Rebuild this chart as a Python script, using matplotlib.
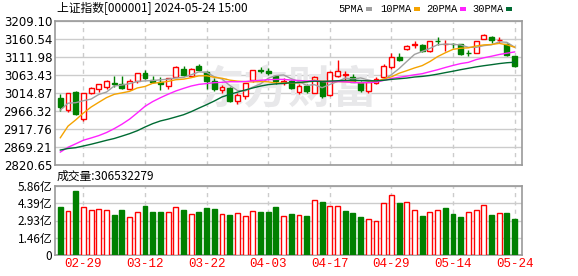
import numpy as np
import pandas as pd
import matplotlib
matplotlib.use('Agg')
import matplotlib.pyplot as plt
from matplotlib.patches import Rectangle

# 上证指数 日K (2024-02-26 ~ 2024-05-24)
dates = ['02-26', '02-27', '02-28', '02-29',
         '03-01', '03-04', '03-05', '03-06', '03-07', '03-08', '03-11', '03-12', '03-13', '03-14',
         '03-15', '03-18', '03-19', '03-20', '03-21', '03-22', '03-25', '03-26', '03-27', '03-28', '03-29',
         '04-01', '04-02', '04-03', '04-08', '04-09', '04-10', '04-11', '04-12', '04-15', '04-16',
         '04-17', '04-18', '04-19', '04-22', '04-23', '04-24', '04-25', '04-26', '04-29', '04-30',
         '05-06', '05-07', '05-08', '05-09', '05-10', '05-13', '05-14', '05-15', '05-16', '05-17',
         '05-20', '05-21', '05-22', '05-23', '05-24']

opens = [3002, 2968, 3017, 2946, 3016, 3026, 3030, 3041, 3039, 3026,
         3048, 3070, 3051, 3044, 3034, 3059, 3080, 3061, 3087, 3072,
         3047, 3023, 3028, 2992, 3008, 3050, 3078, 3073, 3060, 3043,
         3046, 3018, 3034, 3016, 3046, 3010, 3061, 3064.5, 3059, 3042,
         3020, 3042, 3057, 3084, 3111, 3134, 3144, 3144, 3129, 3156,
         3146, 3147, 3146, 3124, 3123, 3161, 3165, 3157, 3147, 3114]
highs = [3011, 3016, 3021, 3016, 3032, 3040, 3050, 3062, 3062, 3053,
         3070, 3076, 3061, 3059, 3056, 3088, 3088, 3081, 3092, 3073,
         3054, 3036, 3032, 3014, 3043, 3078, 3085, 3082, 3063, 3055,
         3049, 3040, 3038, 3062, 3047, 3073, 3104, 3073, 3065, 3046,
         3047, 3058, 3092, 3123, 3123, 3144, 3154, 3146, 3155, 3165,
         3159, 3150, 3147, 3132, 3155, 3175, 3168, 3166, 3149, 3115]
lows = [2966, 2963, 2956, 2939, 3012, 3018, 3025, 3032, 3026, 3022,
        3041, 3052, 3041, 3023, 3026, 3057, 3062, 3058, 3074, 3027,
        3020, 3015, 2990, 2985, 3000, 3045, 3070, 3063, 3040, 3036,
        3027, 3012, 3016, 3016, 3002, 3006, 3057, 3048, 3044, 3018,
        3016, 3038, 3054, 3080, 3102, 3130, 3136, 3126, 3125, 3144,
        3129, 3135, 3118, 3115, 3123, 3160, 3150, 3150, 3115, 3085]
closes = [2977.02, 3015.48, 2957.85, 3015.17, 3027.02, 3039.31, 3047.79, 3039.93, 3027.40, 3046.02,
          3068.46, 3055.94, 3043.83, 3038.23, 3054.64, 3084.93, 3062.76, 3079.69, 3077.11, 3048.03,
          3026.31, 3031.48, 2993.14, 3010.66, 3041.17, 3077.38, 3074.96, 3069.30, 3047.05, 3048.54,
          3027.34, 3034.25, 3019.47, 3057.38, 3007.07, 3071.38, 3074.22, 3065.26, 3044.60, 3021.98,
          3044.82, 3052.90, 3088.64, 3113.04, 3104.82, 3140.72, 3147.74, 3128.48, 3154.32, 3154.55,
          3148.02, 3145.77, 3119.90, 3122.40, 3154.03, 3171.15, 3157.97, 3158.54, 3116.39, 3088.87]
# 成交量 (亿)
volumes = [4.06, 3.72, 5.44, 4.06, 3.80, 3.89, 3.80, 3.41, 3.80, 3.21,
           3.63, 4.17, 3.63, 3.63, 3.63, 4.06, 3.80, 3.46, 3.63, 3.97,
           3.89, 3.46, 3.41, 3.55, 3.30, 3.72, 3.63, 3.63, 4.06, 3.30,
           3.49, 3.38, 3.30, 4.65, 4.48, 4.14, 4.14, 3.72, 3.55, 3.21,
           3.04, 2.87, 4.39, 5.07, 4.39, 4.48, 3.80, 3.30, 3.63, 3.80,
           3.97, 3.49, 3.21, 3.63, 3.80, 4.23, 3.38, 3.55, 3.55, 3.065]
# closes before the window (2024-01-08 ~ 2024-02-23), needed for the moving averages
prior_closes = [2887.54, 2893.25, 2877.70, 2886.65, 2881.98, 2886.29, 2893.99, 2833.62, 2845.78, 2832.28,
                2756.34, 2770.74, 2820.77, 2906.11, 2910.22, 2883.36, 2830.53, 2788.55, 2770.74, 2730.15,
                2702.19, 2789.49, 2829.70, 2865.90, 2910.54, 2922.73, 2950.96, 2988.36, 3004.88]

price_ticks = [2820.65, 2869.21, 2917.76, 2966.32, 3014.87, 3063.43, 3111.98, 3160.54, 3209.10]
vol_ticks = [0, 1.46, 2.93, 4.39, 5.86]
date_labels = ['02-29', '03-12', '03-22', '04-03', '04-17', '04-29', '05-14', '05-24']
ma_periods = [5, 10, 20, 30]
ma_colors = ['#a0a0a0', '#f5a300', '#ff22ff', '#006b33']

RED = '#ff0000'
GREEN = '#008000'
CJK = ['Noto Sans CJK SC', 'DejaVu Sans']

fig = plt.figure(figsize=(5.78, 2.76), dpi=100)
ax = fig.add_axes([55 / 578, 1 - 165 / 276, 467 / 578, 144 / 276])
axv = fig.add_axes([55 / 578, 1 - 255 / 276, 467 / 578, 69 / 276])

x = np.arange(len(closes))
all_close = pd.Series(prior_closes + closes)

# candles
for i in x:
    o, h, l, c = opens[i], highs[i], lows[i], closes[i]
    col = RED if c >= o else GREEN
    ax.vlines(i, l, h, color=col, lw=1.0, zorder=3)
    ax.bar(i, max(abs(c - o), 0.3), bottom=min(o, c), width=0.64,
           facecolor='white' if c >= o else GREEN, edgecolor=col, lw=1.0, zorder=4)

# moving averages
for n, col in zip(ma_periods, ma_colors):
    ma = all_close.rolling(n).mean().iloc[len(prior_closes):].values
    ax.plot(x, ma, color=col, lw=1.0, zorder=5)

# volume
prev = [prior_closes[-1]] + closes[:-1]
for i in x:
    up = closes[i] >= prev[i]
    axv.bar(i, volumes[i], width=0.64, facecolor='white' if up else GREEN,
            edgecolor=RED if up else GREEN, lw=1.0, zorder=3)

tick_idx = [dates.index(d) for d in date_labels]
for a in (ax, axv):
    a.set_xlim(-0.69, 59.96)
    for s in a.spines.values():
        s.set_color('#999999')
        s.set_linewidth(1.2)
    a.tick_params(length=0, labelsize=8.5, pad=2)
    a.set_xticks(tick_idx)
    a.grid(axis='y', color='#cccccc', lw=1.0, zorder=0)
    for t in tick_idx:
        a.axvline(t, color='#cccccc', lw=1.0, ls=(0, (3, 3)), zorder=0)
    a.set_axisbelow(True)

ax.set_ylim(price_ticks[0], price_ticks[-1])
ax.set_yticks(price_ticks)
ax.set_yticklabels(['%.2f' % v for v in price_ticks])
ax.set_xticklabels([])

axv.set_ylim(0, vol_ticks[-1])
axv.set_yticks(vol_ticks)
axv.set_yticklabels(['0' if v == 0 else '%.2f亿' % v for v in vol_ticks], family=CJK)
axv.set_xticklabels(date_labels, color=RED, family='Liberation Mono', fontsize=9)

# watermark
ax.text(0.5, 0.52, '东方财富', transform=ax.transAxes, fontsize=32, fontweight='bold',
        color='#e8e8ea', ha='center', va='center', family=CJK, zorder=1)

fig.text(57 / 578, 1 - 9 / 276, '上证指数[000001] 2024-05-24 15:00', fontsize=8.5,
         va='center', family=CJK)
fig.text(57 / 578, 1 - 176 / 276, '成交量:306532279', fontsize=8.5, va='center', family=CJK)

# legend
leg_x = [338, 380, 426, 472]
for lx, n, col in zip(leg_x, ma_periods, ma_colors):
    t = '%dPMA' % n
    fig.text(lx / 578, 1 - 9 / 276, t, fontsize=7.5, va='center', family='Liberation Mono')
    mx = lx + (28 if n < 10 else 34)
    fig.patches.append(Rectangle((mx / 578, 1 - 10.5 / 276), 6 / 578, 4 / 276,
                                 transform=fig.transFigure, facecolor=col, edgecolor='none'))

fig.savefig('out.png', dpi=100)
